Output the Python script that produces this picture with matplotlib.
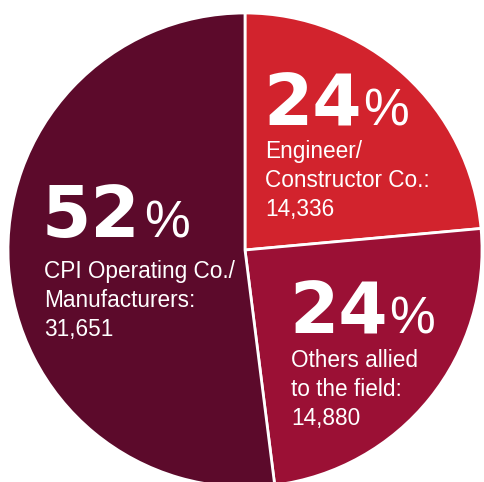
import matplotlib
matplotlib.use("Agg")
import matplotlib.pyplot as plt

# data
groups = ["Engineer/\nConstructor Co.:", "Others allied\nto the field:", "CPI Operating Co./\nManufacturers:"]
counts = [14336, 14880, 31651]
colors = ["#d2232d", "#9b1035", "#5c0a2b"]

W, H = 484, 482
fig = plt.figure(figsize=(W / 100, H / 100), dpi=100)
ax = fig.add_axes([0, 0, 1, 1])

ax.pie(
    counts,
    colors=colors,
    startangle=90,
    counterclock=False,
    center=(245, H - 250),
    radius=237,
    wedgeprops=dict(edgecolor="white", linewidth=2),
    frame=True,
)
ax.set_xlim(0, W)
ax.set_ylim(0, H)
ax.set_aspect("equal")
ax.axis("off")

total = sum(counts)
font = ["Liberation Sans", "DejaVu Sans"]

# label anchors in pixels (x left, baseline of big number, pct x, first text baseline)
anchors = [
    (265, 125, 363, 158),
    (291, 334, 389, 367),
    (44, 237, 144, 278),
]

for grp, n, (x, yb, xp, yt) in zip(groups, counts, anchors):
    pct = round(n / total * 100)
    ax.text(x - 2, H - yb, f"{pct}", color="white", fontsize=51, fontweight="bold",
            family="DejaVu Sans", va="baseline", ha="left")
    ax.text(xp, H - yb, "%", color="white", fontsize=37,
            family=font, va="baseline", ha="left")
    lines = grp.split("\n") + [f"{n:,}"]
    for i, line in enumerate(lines):
        ax.text(x, H - (yt + i * 29), line, color="white", fontsize=16.3,
                family=font, va="baseline", ha="left")

fig.savefig("out.png", dpi=100)
